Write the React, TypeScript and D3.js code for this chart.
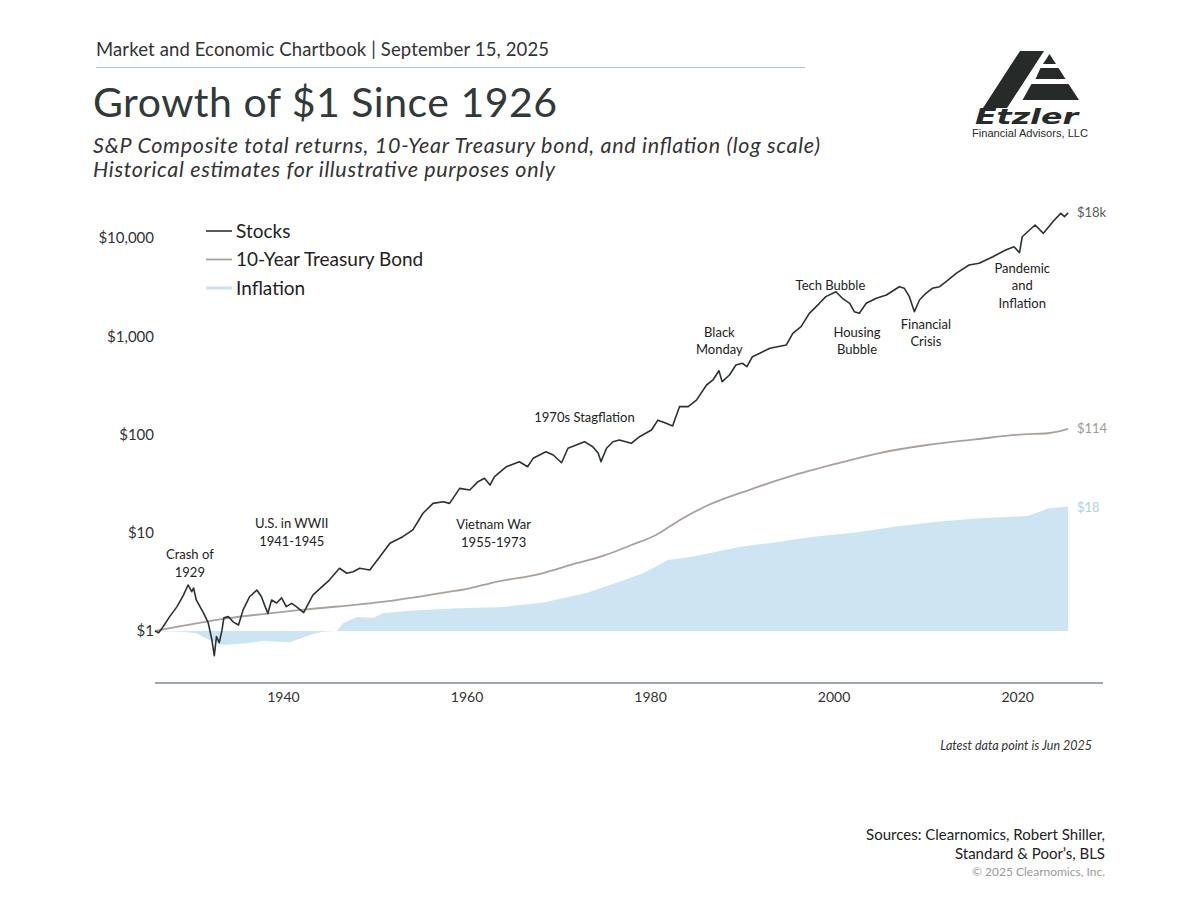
import * as d3 from 'd3';

// Growth of $1 since 1926 (values in dollars, log scale)
const stocks: [number, number][] = [
  [1926.0, 1.0], [1926.4, 0.96], [1926.9, 1.11], [1927.6, 1.4], [1928.4, 1.77], [1929.1, 2.32],
  [1929.6, 2.94], [1930.0, 2.51], [1930.2, 2.74], [1930.5, 2.07], [1930.9, 1.77], [1931.3, 1.52],
  [1931.8, 1.21], [1932.2, 0.81], [1932.46, 0.56], [1932.7, 0.88], [1933.0, 0.76], [1933.3, 1.02],
  [1933.5, 1.36], [1934.0, 1.4], [1934.5, 1.24], [1935.1, 1.15], [1935.6, 1.64], [1936.3, 2.23],
  [1937.1, 2.61], [1937.6, 2.23], [1938.0, 1.77], [1938.3, 1.51], [1938.7, 2.07], [1939.25, 1.93],
  [1939.8, 2.17], [1940.3, 1.77], [1940.9, 1.91], [1941.4, 1.77], [1942.2, 1.54], [1943.2, 2.32],
  [1944.0, 2.72], [1945.0, 3.3], [1946.1, 4.35], [1946.9, 3.87], [1947.6, 4.01], [1948.3, 4.35],
  [1949.4, 4.18], [1950.5, 5.7], [1951.6, 7.81], [1953.0, 9.12], [1954.1, 10.7], [1955.2, 15.8],
  [1956.3, 19.9], [1957.4, 20.7], [1958.1, 19.9], [1959.2, 28.3], [1960.3, 27.2], [1961.2, 33.1],
  [1961.9, 35.8], [1962.5, 30.6], [1963.0, 37.2], [1964.3, 47.0], [1965.7, 52.8], [1966.6, 47.0],
  [1967.2, 57.2], [1968.6, 66.8], [1969.4, 61.8], [1970.3, 51.6], [1971.0, 72.4], [1971.9, 78.2],
  [1972.8, 84.5], [1973.7, 75.1], [1974.3, 64.4], [1974.6, 52.9], [1975.2, 72.4], [1975.9, 84.5],
  [1976.6, 87.9], [1977.9, 81.3], [1978.8, 95.0], [1980.1, 111], [1980.8, 140], [1981.7, 130],
  [1982.4, 122], [1983.15, 192], [1984.1, 192], [1985.0, 224], [1986.1, 319], [1986.8, 359],
  [1987.45, 446], [1987.8, 345], [1988.6, 403], [1989.3, 510], [1990.0, 531], [1990.5, 490],
  [1991.1, 619], [1991.9, 670], [1993.0, 754], [1994.8, 815], [1995.5, 1072], [1996.4, 1251],
  [1997.3, 1712], [1998.4, 2164], [1999.1, 2530], [2000.2, 2840], [2000.9, 2433], [2001.7, 2164],
  [2002.2, 1778], [2002.75, 1713], [2003.5, 2164], [2004.6, 2433], [2005.7, 2630], [2007.1, 3193],
  [2007.65, 3076], [2008.2, 2528], [2008.75, 1778], [2009.3, 2339], [2010.0, 2735], [2010.7, 3076],
  [2011.5, 3193], [2012.2, 3590], [2013.3, 4372], [2014.7, 5310], [2015.8, 5525], [2017.3, 6454],
  [2018.7, 7546], [2019.6, 8150], [2020.2, 7100], [2020.5, 10300], [2021.9, 13560], [2022.8, 11160],
  [2023.1, 12070], [2024.0, 15240], [2024.7, 17830], [2025.1, 16480], [2025.5, 18000],
];

const bonds: [number, number][] = [
  [1926, 1.0], [1934, 1.35], [1942, 1.64], [1951, 1.99], [1958, 2.5], [1960.3, 2.72], [1962.5, 3.06],
  [1968.2, 3.87], [1971.3, 4.7], [1974.9, 5.84], [1977.9, 7.5], [1980.6, 9.5], [1983.2, 13.5],
  [1985.9, 18.4], [1990.7, 27.2], [1995.1, 37.2], [2000.4, 50.9], [2004.8, 64.4], [2010.1, 78.2],
  [2015.4, 89.3], [2020.6, 100.5], [2023.3, 103], [2025.5, 114],
];

const inflation: [number, number][] = [
  [1926, 1.0], [1929, 0.98], [1930.5, 0.95], [1932, 0.8], [1933.4, 0.72], [1936, 0.75],
  [1937.8, 0.79], [1940.7, 0.77], [1942.9, 0.91], [1944.3, 0.98], [1945.8, 1.0], [1946.5, 1.2],
  [1948, 1.39], [1949.8, 1.36], [1950.8, 1.52], [1953.8, 1.61], [1958.9, 1.7], [1963.4, 1.74],
  [1968.2, 1.94], [1973.1, 2.45], [1976.6, 3.18], [1979.2, 3.86], [1981.9, 5.28], [1984.5, 5.71],
  [1989.8, 7.21], [1993.3, 7.92], [1997.7, 9.12], [2002.1, 10.0], [2006.55, 11.5], [2010.95, 12.9],
  [2015.4, 14.0], [2021.1, 14.8], [2023.3, 17.7], [2025.5, 18.5],
];

const yTicks = [1, 10, 100, 1000, 10000];
const xTicks = [1940, 1960, 1980, 2000, 2020];

const endLabels = [
  { text: '$18k', value: 18000, color: '#5a5a5a' },
  { text: '$114', value: 114, color: '#9a9a9a' },
  { text: '$18', value: 18, color: '#a9d2ee' },
];

// first-line anchor of each event label, in chart units (year, dollars)
const annotations = [
  { lines: ['Crash of', '1929'], year: 1929.8, value: 6.0 },
  { lines: ['U.S. in WWII', '1941-1945'], year: 1940.9, value: 12.4 },
  { lines: ['Vietnam War', '1955-1973'], year: 1962.9, value: 12.1 },
  { lines: ['1970s Stagflation'], year: 1972.8, value: 148 },
  { lines: ['Black', 'Monday'], year: 1987.5, value: 1105 },
  { lines: ['Tech Bubble'], year: 1999.6, value: 3325 },
  { lines: ['Housing', 'Bubble'], year: 2002.5, value: 1105 },
  { lines: ['Financial', 'Crisis'], year: 2010.0, value: 1333 },
  { lines: ['Pandemic', 'and', 'Inflation'], year: 2020.5, value: 4950 },
];

const legend = [
  { label: 'Stocks', color: '#2b3332', width: 1.6 },
  { label: '10-Year Treasury Bond', color: '#aaa19b', width: 1.8 },
  { label: 'Inflation', color: '#c9e2f4', width: 3 },
];

const FONT = 'Lato, "Open Sans", sans-serif';

export default function App() {
  const x = d3.scaleLinear().domain([1926, 2029.3]).range([155, 1103]);
  const y = d3.scaleLog().domain([1, 10000]).range([631, 238]);

  const stockLine = d3
    .line<[number, number]>()
    .x((d) => x(d[0]))
    .y((d) => y(d[1]));
  const bondLine = d3
    .line<[number, number]>()
    .x((d) => x(d[0]))
    .y((d) => y(d[1]))
    .curve(d3.curveMonotoneX);
  const inflArea = d3
    .area<[number, number]>()
    .x((d) => x(d[0]))
    .y0(y(1))
    .y1((d) => y(d[1]));

  return (
    <div style={{ position: 'absolute', top: 0, left: 0 }}>
      <svg width={1200} height={900} style={{ display: 'block', background: '#fff' }} fontFamily={FONT}>
        {/* header */}
        <text x={96} y={56} fontSize={18.5} fill="#333" textLength={453}>
          Market and Economic Chartbook | September 15, 2025
        </text>
        <line x1={96} x2={805} y1={67.5} y2={67.5} stroke="#a9c3d6" strokeWidth={1.2} />
        <text x={93} y={117} fontSize={41} fill="#2f3a39" textLength={464}>
          Growth of $1 Since 1926
        </text>
        <text x={93} y={153} fontSize={21.5} fontStyle="italic" fill="#333" textLength={727}>
          S&amp;P Composite total returns, 10-Year Treasury bond, and inflation (log scale)
        </text>
        <text x={93} y={177} fontSize={21.5} fontStyle="italic" fill="#333" textLength={462}>
          Historical estimates for illustrative purposes only
        </text>

        {/* logo */}
        <g fill="#262b29">
          <polygon points="1020,51 1044,51 1007,108 983,108" />
          <polygon points="1049.5,54 1056,64 1043,64" />
          <polygon points="1058.5,68 1065.5,79 1035.5,79 1040.5,68" />
          <polygon points="1068.5,84 1079,100 1022.5,100 1031.5,84" />
          <text
            x={975}
            y={124}
            fontSize={22}
            fontWeight={900}
            fontStyle="italic"
            fontFamily='"DejaVu Sans", sans-serif'
            textLength={103}
            lengthAdjust="spacingAndGlyphs"
          >
            Etzler
          </text>
          <text
            x={972}
            y={137}
            fontSize={11}
            fontFamily='"Liberation Sans", Arial, sans-serif'
            textLength={116}
            lengthAdjust="spacingAndGlyphs"
          >
            Financial Advisors, LLC
          </text>
        </g>

        {/* inflation area */}
        <path d={inflArea(inflation) ?? ''} fill="#cde4f3" />
        {/* bonds */}
        <path d={bondLine(bonds) ?? ''} fill="none" stroke="#aaa19b" strokeWidth={1.8} />
        {/* stocks */}
        <path d={stockLine(stocks) ?? ''} fill="none" stroke="#2b3332" strokeWidth={1.6} strokeLinejoin="round" />

        {/* y axis labels */}
        {yTicks.map((t) => (
          <text key={t} x={154} y={y(t)} dy="0.35em" textAnchor="end" fontSize={15} fill="#333">
            {'$' + d3.format(',')(t)}
          </text>
        ))}

        {/* x axis */}
        <line x1={155} x2={1103} y1={683} y2={683} stroke="#7d8b97" strokeWidth={1.5} />
        {xTicks.map((t) => (
          <text key={t} x={x(t)} y={702} textAnchor="middle" fontSize={14} fill="#333">
            {t}
          </text>
        ))}

        {/* legend */}
        {legend.map((l, i) => (
          <g key={l.label} transform={`translate(206,${231 + i * 28.5})`}>
            <line x1={0} x2={26} y1={0} y2={0} stroke={l.color} strokeWidth={l.width} />
            <text x={30} y={0} dy="0.35em" fontSize={19} fill="#222">
              {l.label}
            </text>
          </g>
        ))}

        {/* annotations */}
        {annotations.map((a) => (
          <text key={a.lines[0]} x={x(a.year)} y={y(a.value)} textAnchor="middle" fontSize={13} fill="#222">
            {a.lines.map((ln, i) => (
              <tspan key={i} x={x(a.year)} dy={i === 0 ? '0.35em' : 17.5}>
                {ln}
              </tspan>
            ))}
          </text>
        ))}

        {/* end labels */}
        {endLabels.map((e) => (
          <text key={e.text} x={1077} y={y(e.value)} dy="0.35em" fontSize={13} fill={e.color}>
            {e.text}
          </text>
        ))}

        {/* footer */}
        <text x={1092} y={750} textAnchor="end" fontSize={12.5} fontStyle="italic" fill="#333">
          Latest data point is Jun 2025
        </text>
        <text x={1105} y={840} textAnchor="end" fontSize={15} fill="#222">
          Sources: Clearnomics, Robert Shiller,
        </text>
        <text x={1105} y={859} textAnchor="end" fontSize={15} fill="#222">
          Standard &amp; Poor’s, BLS
        </text>
        <text x={1105} y={876} textAnchor="end" fontSize={12} fill="#9a9a9a">
          © 2025 Clearnomics, Inc.
        </text>
      </svg>
    </div>
  );
}
